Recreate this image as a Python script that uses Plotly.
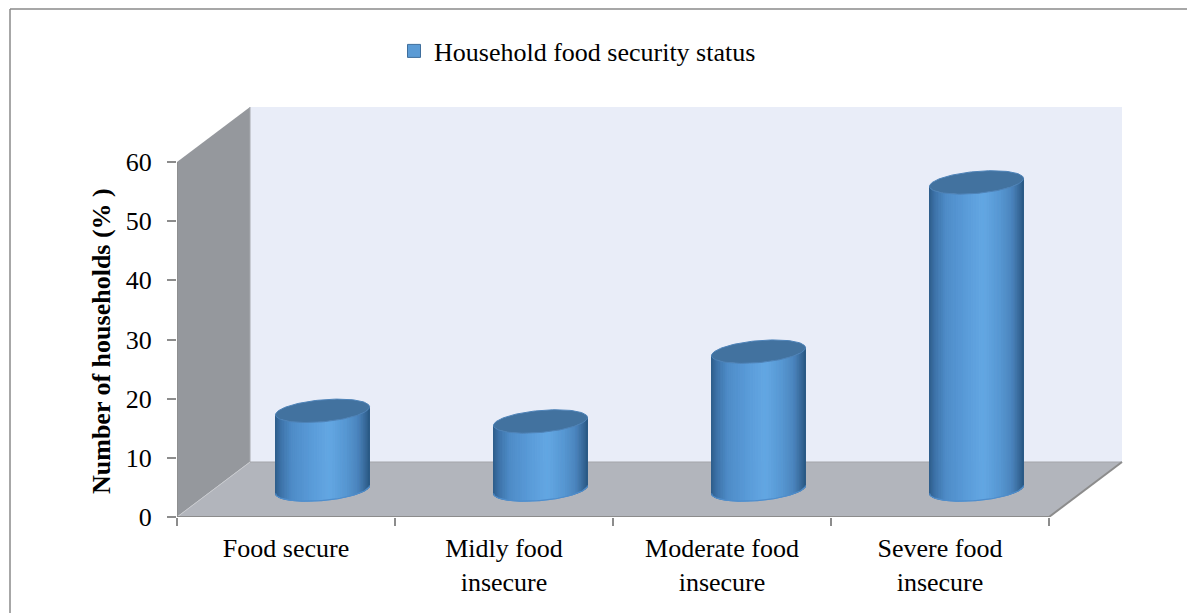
import numpy as np
import plotly.graph_objects as go

# ---- data -------------------------------------------------------------
categories = ["Food secure", "Midly food<br>insecure", "Moderate food<br>insecure", "Severe food<br>insecure"]
values = [13.3, 11.5, 23.3, 51.9]
series_name = "Household food security status"
y_ticks = [0, 10, 20, 30, 40, 50, 60]
y_title = "Number of households (% )"

# ---- page geometry (pixels) ---------------------------------------------
FIG_W, FIG_H = 1187, 613
M_L, M_B, M_T = 177, 96, 103
PX_X = 218.0                 # pixels per category slot
PX_Y = (517 - 162) / 60.0    # pixels per value unit
PLOT_W = 970
PLOT_H = FIG_H - M_B - M_T
X_MAX = PLOT_W / PX_X
Y_MAX = PLOT_H / PX_Y

# oblique depth of the 3-D box, expressed in axis units
DX = 73 / PX_X
DY = 55 / PX_Y
N_CAT = len(categories)
Y_TOP = max(y_ticks)

# cylinder shape in axis units
RAD_X = 47 / PX_X
RAD_Y = 11 / PX_Y
SHEAR = 4 / PX_Y

FONT = "Times New Roman, Liberation Serif, serif"
FONT_SIZE = 26


def px_to_paper_x(px):
    return (px - M_L) / PLOT_W


def px_to_paper_y(py):
    return (FIG_H - M_B - py) / PLOT_H


def lerp_color(stops, u):
    for (u0, c0), (u1, c1) in zip(stops[:-1], stops[1:]):
        if u0 <= u <= u1:
            f = 0 if u1 == u0 else (u - u0) / (u1 - u0)
            c = [int(round(c0[i] + (c1[i] - c0[i]) * f)) for i in range(3)]
            return "rgb(%d,%d,%d)" % tuple(c)
    c = stops[-1][1]
    return "rgb(%d,%d,%d)" % tuple(c)


def hex_rgb(h):
    h = h.lstrip("#")
    return [int(h[i:i + 2], 16) for i in (0, 2, 4)]


side_stops = [
    (0.00, hex_rgb("#2E5C8A")),
    (0.06, hex_rgb("#3C72A8")),
    (0.18, hex_rgb("#4E8CC8")),
    (0.42, hex_rgb("#5B9DDA")),
    (0.58, hex_rgb("#63A7E3")),
    (0.76, hex_rgb("#5696D1")),
    (0.88, hex_rgb("#4A84BD")),
    (0.95, hex_rgb("#3A6C9E")),
    (1.00, hex_rgb("#2C5A86")),
]

fig = go.Figure()

# ---- walls and floor ------------------------------------------------------
wall_line = "#8C8C8C"
shapes = []
# back wall
shapes.append(dict(type="path", xref="x", yref="y", layer="below",
                   path=f"M {DX},{DY} L {N_CAT + DX},{DY} L {N_CAT + DX},{Y_TOP + DY} L {DX},{Y_TOP + DY} Z",
                   fillcolor="#E9EDF8", line=dict(width=0)))
# side wall
shapes.append(dict(type="path", xref="x", yref="y", layer="below",
                   path=f"M 0,0 L {DX},{DY} L {DX},{Y_TOP + DY} L 0,{Y_TOP} Z",
                   fillcolor="#95989D", line=dict(width=0)))
# floor
shapes.append(dict(type="path", xref="x", yref="y", layer="below",
                   path=f"M 0,0 L {N_CAT},0 L {N_CAT + DX},{DY} L {DX},{DY} Z",
                   fillcolor="#B2B5BC", line=dict(width=0)))

# box edges
edges = [
    ((DX, DY), (N_CAT + DX, DY), "#A3A5AA", 1.2),
    ((0, 0), (DX, DY), "#C9CBCF", 1.0),
    ((DX, DY), (DX, Y_TOP + DY), "#A7AAAE", 1.0),
    ((0, 0), (N_CAT, 0), wall_line, 2.0),
    ((N_CAT, 0), (N_CAT + DX, DY), wall_line, 2.0),
    ((0, 0), (0, Y_TOP), wall_line, 1.5),
]
for (x0, y0), (x1, y1), col, w in edges:
    fig.add_trace(go.Scatter(x=[x0, x1], y=[y0, y1], mode="lines",
                             line=dict(color=col, width=w),
                             hoverinfo="skip", showlegend=False))

# ---- cylinders -----------------------------------------------------------
N_STRIP = 56
t_edges = np.linspace(np.pi, 0, N_STRIP + 1)


def front_arc(cx, cy, t):
    return cx + RAD_X * np.cos(t), cy - RAD_Y * np.sin(t) + SHEAR * np.cos(t)


base_y = DY / 2
centers = [i + 0.5 + DX / 2 for i in range(N_CAT)]

for k in range(N_STRIP):
    t0, t1 = t_edges[k], t_edges[k + 1]
    xs, ys = [], []
    for cx, v in zip(centers, values):
        top_y = base_y + v
        xb0, yb0 = front_arc(cx, base_y, t0)
        xb1, yb1 = front_arc(cx, base_y, t1)
        xt0, yt0 = front_arc(cx, top_y, t0)
        xt1, yt1 = front_arc(cx, top_y, t1)
        xs += [xb0, xb1, xt1, xt0, xb0, None]
        ys += [yb0, yb1, yt1, yt0, yb0, None]
    u = (1 + np.cos((t0 + t1) / 2)) / 2
    col = lerp_color(side_stops, u)
    fig.add_trace(go.Scatter(x=xs, y=ys, mode="lines", fill="toself",
                             fillcolor=col, line=dict(color=col, width=1),
                             hoverinfo="skip", showlegend=False))

# bottom rim highlight
tt = np.linspace(np.pi, 0, 80)
xs, ys = [], []
for cx in centers:
    bx, by = front_arc(cx, base_y, tt)
    xs += list(bx) + [None]
    ys += list(by) + [None]
fig.add_trace(go.Scatter(x=xs, y=ys, mode="lines",
                         line=dict(color="#4F8DCB", width=1.2),
                         hoverinfo="skip", showlegend=False))

# top caps
ta = np.linspace(0, 2 * np.pi, 121)
xs, ys = [], []
for cx, v in zip(centers, values):
    cy = base_y + v
    xs += list(cx + RAD_X * np.cos(ta)) + [None]
    ys += list(cy - RAD_Y * np.sin(ta) + SHEAR * np.cos(ta)) + [None]
fig.add_trace(go.Scatter(x=xs, y=ys, mode="lines", fill="toself",
                         fillcolor="#42729F", line=dict(color="#4E83B8", width=1),
                         hoverinfo="skip", showlegend=False))

# legend entry
fig.add_trace(go.Scatter(x=[None], y=[None], mode="markers", name=series_name,
                         marker=dict(symbol="square", size=13, color="#5B9BD5",
                                     line=dict(color="#3F6E9C", width=1))))

# category ticks between slots
fig.add_trace(go.Scatter(x=[None], y=[None], xaxis="x2", showlegend=False))

# ---- outer chart frame ------------------------------------------------------
frame_col = "#8A8A8A"
shapes.append(dict(type="line", xref="paper", yref="paper",
                   x0=px_to_paper_x(10), x1=px_to_paper_x(10),
                   y0=px_to_paper_y(9), y1=px_to_paper_y(FIG_H + 5),
                   line=dict(color=frame_col, width=1.5)))
shapes.append(dict(type="line", xref="paper", yref="paper",
                   x0=px_to_paper_x(10), x1=px_to_paper_x(FIG_W + 5),
                   y0=px_to_paper_y(9), y1=px_to_paper_y(9),
                   line=dict(color=frame_col, width=1.5)))

fig.update_layout(
    width=FIG_W, height=FIG_H,
    margin=dict(l=M_L, r=FIG_W - M_L - PLOT_W, t=M_T, b=M_B, pad=0, autoexpand=False),
    paper_bgcolor="white", plot_bgcolor="white",
    font=dict(family=FONT, size=FONT_SIZE, color="black"),
    shapes=shapes,
    showlegend=True,
    legend=dict(orientation="h", x=px_to_paper_x(394), xanchor="left",
                y=px_to_paper_y(51), yanchor="middle",
                font=dict(family=FONT, size=FONT_SIZE, color="black"),
                bgcolor="rgba(0,0,0,0)", borderwidth=0),
    xaxis=dict(range=[0, X_MAX], tickmode="array",
               tickvals=[i + 0.5 for i in range(N_CAT)], ticktext=categories,
               tickfont=dict(family=FONT, size=FONT_SIZE),
               ticks="", showgrid=False, zeroline=False, showline=False,
               ticklabelstandoff=13, automargin=False, fixedrange=True),
    xaxis2=dict(range=[0, X_MAX], overlaying="x", side="bottom",
                tickmode="array", tickvals=list(range(N_CAT + 1)),
                showticklabels=False, ticks="outside", ticklen=8, tickwidth=1.5,
                tickcolor=wall_line, showgrid=False, zeroline=False,
                showline=False, automargin=False, fixedrange=True),
    yaxis=dict(range=[0, Y_MAX], tickmode="array", tickvals=y_ticks,
               tickfont=dict(family=FONT, size=FONT_SIZE),
               ticks="outside", ticklen=9, tickwidth=1.5, tickcolor=wall_line,
               showgrid=False, zeroline=False, showline=False,
               ticklabelstandoff=10, automargin=False, fixedrange=True),
    annotations=[dict(text="<b>" + y_title + "</b>", xref="paper", yref="paper",
                      x=px_to_paper_x(101), y=px_to_paper_y(341),
                      xanchor="center", yanchor="middle", textangle=-90,
                      showarrow=False, font=dict(family=FONT, size=FONT_SIZE, color="black"))],
)

fig.write_html("out.html")
